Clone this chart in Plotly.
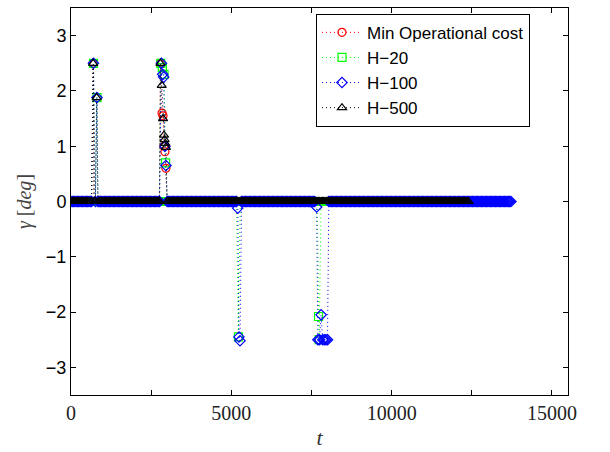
import numpy as np
import plotly.graph_objects as go

# ---- data ----
series_names = ["Min Operational cost", "H\u221220", "H\u2212100", "H\u2212500"]

sample_step = 40             # logging interval of the series [t]
end_red = 12400
end_green = 12400
end_blue = 13750
end_black = 12400

# non-zero samples (t, gamma); all other samples are 0
red_t = [690, 2790, 2840, 2870, 2900, 2930, 2960]
red_v = [2.5, 2.5, 1.6, 1.55, 1.0, 0.9, 0.6]

green_t = [700, 810, 2800, 2850, 2900, 2950, 5220, 7720, 7740]
green_v = [2.5, 1.88, 2.5, 2.42, 2.3, 0.7, -2.45, -2.08, -2.5]

blue_t = [700, 810, 2820, 2860, 2890, 2930, 2960, 5200, 5240, 5270,
          7660, 7700, 7750, 7800, 7850, 7900, 7950, 8000]
blue_v = [2.5, 1.88, 2.5, 2.3, 2.25, 1.0, 0.65, -0.12, -2.45, -2.52,
          -0.1, -2.5, -2.5, -2.05, -2.5, -2.5, -2.5, -2.5]

black_t = [690, 800, 2790, 2830, 2870, 2900, 2920, 2940, 2960]
black_v = [2.5, 1.88, 2.5, 2.1, 1.5, 1.2, 1.12, 1.05, 0.98]

x_tick_vals = [0, 2500, 5000, 7500, 10000, 12500, 15000]
x_tick_text = ["0", "", "5000", "", "10000", "", "15000"]
y_tick_vals = [-3, -2, -1, 0, 1, 2, 3]


def build(t_end, ev_t, ev_v):
    base = np.arange(0, t_end + 1, sample_step)
    ev = np.array(ev_t, dtype=float)
    keep = [b for b in base if np.all(np.abs(ev - b) >= 25)]
    t = np.concatenate([np.array(keep, dtype=float), ev])
    v = np.concatenate([np.zeros(len(keep)), np.array(ev_v, dtype=float)])
    o = np.argsort(t, kind="stable")
    return t[o], v[o]


specs = [
    (series_names[0], end_red, red_t, red_v, "#ff0000", "circle-open"),
    (series_names[1], end_green, green_t, green_v, "#00ff00", "square-open"),
    (series_names[2], end_blue, blue_t, blue_v, "#0000ff", "diamond-open"),
    (series_names[3], end_black, black_t, black_v, "#000000", "triangle-up-open"),
]

fig = go.Figure()
for name, t_end, et, ev, col, sym in specs:
    t, v = build(t_end, et, ev)
    fig.add_trace(go.Scatter(
        x=t, y=v, name=name, mode="lines+markers",
        line=dict(color=col, width=1, dash="1px,3px"),
        marker=dict(symbol=sym, size=8, color=col, line=dict(color=col, width=1.2)),
    ))

fig.update_layout(
    width=610, height=452,
    margin=dict(l=71, r=42, t=7, b=56),
    paper_bgcolor="white", plot_bgcolor="white",
    showlegend=True,
    legend=dict(
        x=0.9235, y=0.985, xanchor="right", yanchor="top",
        bgcolor="white", bordercolor="black", borderwidth=1,
        font=dict(family="Liberation Sans, Arial, sans-serif", size=17, color="black"),
        tracegroupgap=0, itemwidth=40,
    ),
)

fig.update_xaxes(
    range=[0, 15500], tickvals=x_tick_vals, ticktext=x_tick_text,
    ticks="inside", ticklen=5, tickcolor="black",
    showline=True, linecolor="black", linewidth=1, mirror="ticks",
    showgrid=False, zeroline=False,
    tickfont=dict(family="Liberation Serif, Times New Roman, serif", size=20, color="#222"),
    title=dict(text="<i>t</i>", font=dict(family="Liberation Serif, serif", size=22, color="#333"), standoff=6),
)
fig.update_yaxes(
    range=[-3.5, 3.5], tickvals=y_tick_vals,
    ticks="inside", ticklen=5, tickcolor="black",
    showline=True, linecolor="black", linewidth=1, mirror="ticks",
    showgrid=False, zeroline=False,
    tickfont=dict(family="Liberation Sans, Arial, sans-serif", size=18, color="black"),
    title=dict(text="<i>\u03b3</i> [<i>deg</i>]", font=dict(family="Liberation Serif, serif", size=20, color="#444"), standoff=8),
)

fig.write_html("out.html")
